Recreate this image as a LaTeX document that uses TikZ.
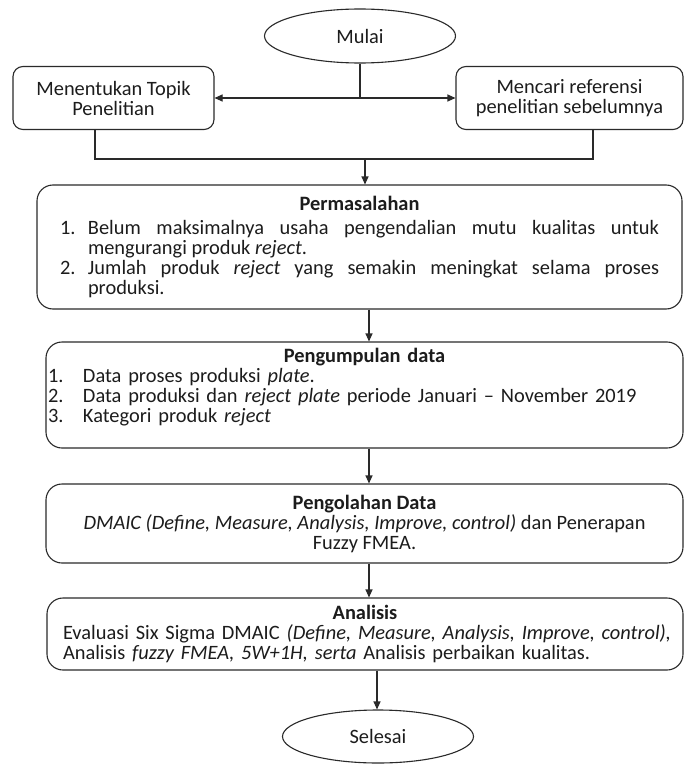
\documentclass[tikz,border=0pt]{standalone}
\usepackage{fontspec}
\setmainfont{Carlito}
\usetikzlibrary{shapes.geometric,arrows.meta}
\definecolor{ink}{HTML}{1C1C1C}
\definecolor{edge}{HTML}{2A2A2A}
\newcommand{\bodyfont}{\fontsize{20.4}{20}\selectfont}
% numbered entry with a hanging indent: #1 indent, #2 label, #3 text
\newcommand{\itm}[3]{\par\noindent\hangindent=#1\hangafter=1\makebox[#1][l]{#2}#3\par}
\begin{document}
\begin{tikzpicture}[x=1pt,y=-1pt,
  every node/.style={font=\bodyfont, text=ink},
  term/.style={ellipse, draw=edge, line width=1.1pt, inner sep=0pt},
  smallbox/.style={rectangle, rounded corners=10pt, draw=edge, line width=1.1pt, align=center, inner sep=0pt},
  bigbox/.style={rectangle, rounded corners=16pt, draw=edge, line width=1.1pt, inner sep=0pt},
  link/.style={draw=edge, line width=1.1pt},
  arr/.style={link, -{Triangle[length=8pt,width=7pt]}}]
\useasboundingbox (0,0) rectangle (684,765);
\fill[white] (0,0) rectangle (684,765);

% start and the two opening steps
\node[term, minimum width=191pt, minimum height=54pt] (mulai) at (360,36) {Mulai};
\node[smallbox, minimum width=201pt, minimum height=63pt] (topik) at (113.5,98) {Menentukan Topik\\Penelitian};
\node[smallbox, minimum width=227pt, minimum height=63pt] (ref) at (569.5,98) {Mencari referensi\\penelitian sebelumnya};

% problem statement
\node[bigbox, minimum width=645pt, minimum height=124pt, text width=599pt, align=justify] (masalah) at (359.5,247) {%
  {\centering\textbf{Permasalahan}\par}\vspace{4pt}%
  \itm{28pt}{1.}{Belum maksimalnya usaha pengendalian mutu kualitas untuk\linebreak mengurangi produk \textit{reject}.}%
  \itm{28pt}{2.}{Jumlah produk \textit{reject} yang semakin meningkat selama proses\linebreak produksi.}};

% data collection
\node[bigbox, minimum width=637pt, minimum height=106pt, text width=633pt, align=left] (kumpul) at (364.5,395) {%
  {\centering\textbf{Pengumpulan data}\par}%
  \itm{35pt}{1.}{Data proses produksi \textit{plate}.}%
  \itm{35pt}{2.}{Data produksi dan \textit{reject plate} periode Januari – November 2019}%
  \itm{35pt}{3.}{Kategori produk \textit{reject}}%
  \mbox{}};

% data processing
\node[bigbox, minimum width=637pt, minimum height=79pt, align=center] (olah) at (364.5,523.5) {%
  \textbf{Pengolahan Data}\\
  \textit{DMAIC (Define, Measure, Analysis, Improve, control)} dan Penerapan\\
  Fuzzy FMEA.};

% analysis
\node[bigbox, minimum width=636pt, minimum height=72pt, text width=604pt, align=left] (analisis) at (365,634) {%
  {\centering\textbf{Analisis}\par}%
  \mbox{Evaluasi Six Sigma DMAIC \textit{(Define, Measure, Analysis, Improve, control),}}\\
  \mbox{Analisis \textit{fuzzy FMEA, 5W+1H, serta} Analisis perbaikan kualitas.}};

% end
\node[term, minimum width=191pt, minimum height=53pt] (selesai) at (378,736.5) {Selesai};

% connectors
\coordinate (split) at (360,98);
\coordinate (join) at (365,159);
\coordinate (lfoot) at (95,0);
\coordinate (rfoot) at (593,0);
\coordinate (trunk) at (369,0);
\coordinate (tail) at (377,0);

\draw[link] (mulai) -- (split);
\draw[arr] (split) -- (topik.east |- split);
\draw[arr] (split) -- (ref.west |- split);
\draw[link] (topik.south -| lfoot) |- (rfoot |- join) -- (ref.south -| rfoot);
\draw[arr] (join) -- (masalah.north -| join);
\draw[arr] (masalah.south -| trunk) -- (kumpul.north -| trunk);
\draw[arr] (kumpul.south -| trunk) -- (olah.north -| trunk);
\draw[arr] (olah.south -| trunk) -- (analisis.north -| trunk);
\draw[arr] (analisis.south -| tail) -- (selesai.north -| tail);
\end{tikzpicture}
\end{document}
